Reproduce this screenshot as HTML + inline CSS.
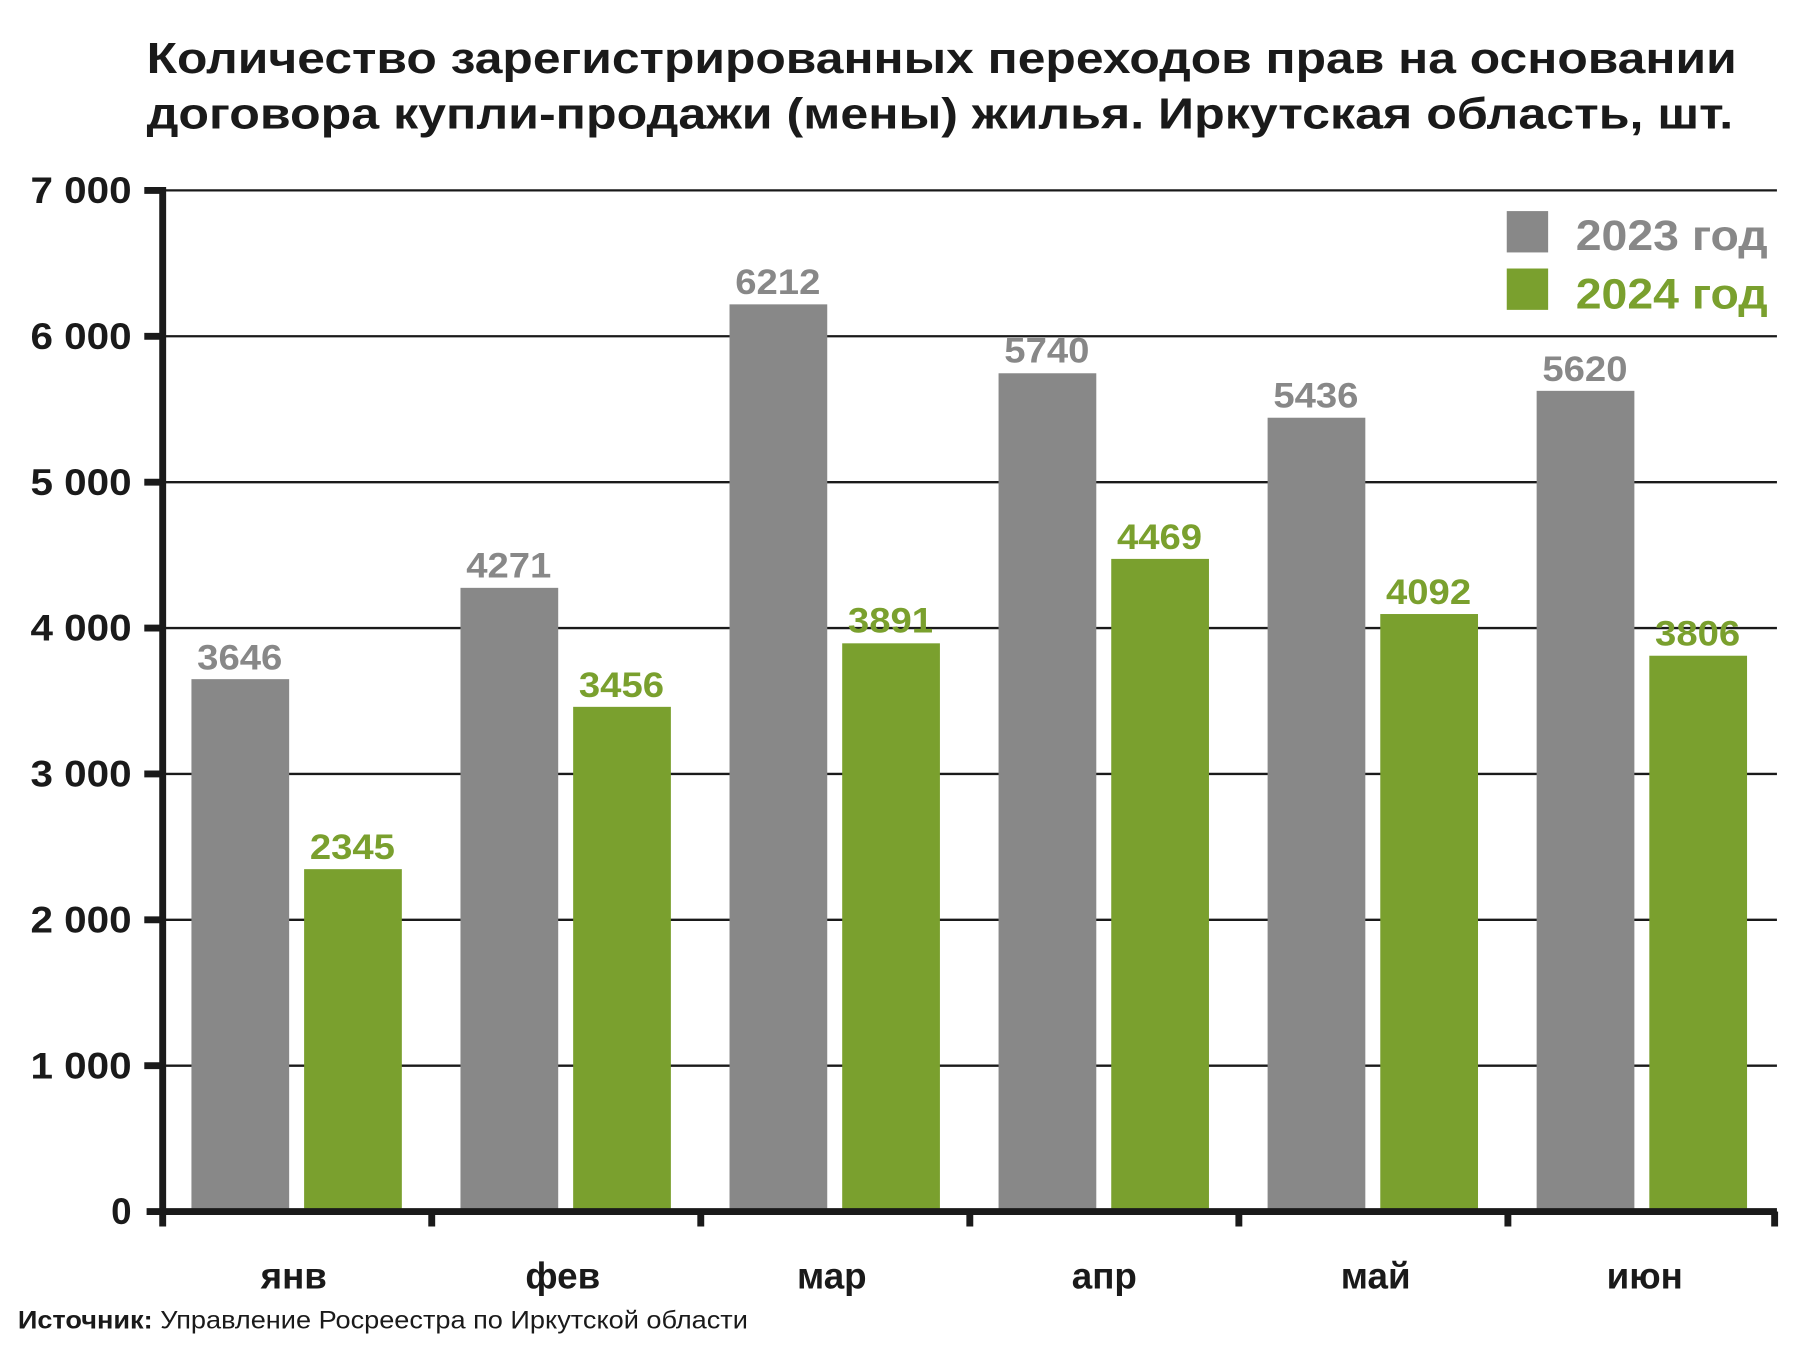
<!DOCTYPE html>
<html><head><meta charset="utf-8"><style>html,body{margin:0;padding:0;background:#fff}svg{display:block}</style></head>
<body>
<svg width="1800" height="1346" viewBox="0 0 1560 1166.5" xmlns="http://www.w3.org/2000/svg" font-family="'Liberation Sans', sans-serif">
<g transform="matrix(0.99645 0 0 0.9955 0.5 -0.25)">
<g font-weight="bold" fill="#1a1a1a" font-size="38">
<text x="127" y="64" textLength="1383" lengthAdjust="spacingAndGlyphs">Количество зарегистрированных переходов прав на основании</text>
<text x="127" y="112" textLength="1380" lengthAdjust="spacingAndGlyphs">договора купли-продажи (мены) жилья. Иркутская область, шт.</text>
</g>
<g stroke="#1a1a1a" stroke-width="2">
<line x1="141" y1="166" x2="1545" y2="166"/>
<line x1="141" y1="293" x2="1545" y2="293"/>
<line x1="141" y1="420" x2="1545" y2="420"/>
<line x1="141" y1="547" x2="1545" y2="547"/>
<line x1="141" y1="674" x2="1545" y2="674"/>
<line x1="141" y1="801" x2="1545" y2="801"/>
<line x1="141" y1="928" x2="1545" y2="928"/>
</g>
<g fill="#888888">
<rect x="166" y="591.5" width="85" height="463.5"/>
<rect x="400" y="512" width="85" height="543"/>
<rect x="634" y="265.2" width="85" height="789.8"/>
<rect x="868" y="325.2" width="85" height="729.8"/>
<rect x="1102" y="363.9" width="85" height="691.1"/>
<rect x="1336" y="340.5" width="85" height="714.5"/>
</g>
<g fill="#7aa02e">
<rect x="264" y="756.9" width="85" height="298.1"/>
<rect x="498" y="615.6" width="85" height="439.4"/>
<rect x="732" y="560.3" width="85" height="494.7"/>
<rect x="966" y="486.8" width="85" height="568.2"/>
<rect x="1200" y="534.8" width="85" height="520.2"/>
<rect x="1434" y="571.1" width="85" height="483.9"/>
</g>
<g font-weight="bold" font-size="31" text-anchor="middle" fill="#888888">
<text x="208" y="583" textLength="74" lengthAdjust="spacingAndGlyphs">3646</text><text x="442" y="503" textLength="74" lengthAdjust="spacingAndGlyphs">4271</text><text x="676" y="256" textLength="74" lengthAdjust="spacingAndGlyphs">6212</text>
<text x="910" y="316" textLength="74" lengthAdjust="spacingAndGlyphs">5740</text><text x="1144" y="355" textLength="74" lengthAdjust="spacingAndGlyphs">5436</text><text x="1378" y="332" textLength="74" lengthAdjust="spacingAndGlyphs">5620</text>
</g>
<g font-weight="bold" font-size="31" text-anchor="middle" fill="#7aa02e">
<text x="306" y="748" textLength="74" lengthAdjust="spacingAndGlyphs">2345</text><text x="540" y="607" textLength="74" lengthAdjust="spacingAndGlyphs">3456</text><text x="774" y="551" textLength="74" lengthAdjust="spacingAndGlyphs">3891</text>
<text x="1008" y="478" textLength="74" lengthAdjust="spacingAndGlyphs">4469</text><text x="1242" y="526" textLength="74" lengthAdjust="spacingAndGlyphs">4092</text><text x="1476" y="562" textLength="74" lengthAdjust="spacingAndGlyphs">3806</text>
</g>
<g stroke="#1a1a1a">
<line x1="141" y1="163" x2="141" y2="1068" stroke-width="6"/>
<line x1="127" y1="1055" x2="1545" y2="1055" stroke-width="6"/>
<g stroke-width="6">
<line x1="125" y1="166" x2="141" y2="166"/><line x1="125" y1="293" x2="141" y2="293"/>
<line x1="125" y1="420" x2="141" y2="420"/><line x1="125" y1="547" x2="141" y2="547"/>
<line x1="125" y1="674" x2="141" y2="674"/><line x1="125" y1="801" x2="141" y2="801"/>
<line x1="125" y1="928" x2="141" y2="928"/>
<line x1="375" y1="1055" x2="375" y2="1068"/><line x1="609" y1="1055" x2="609" y2="1068"/>
<line x1="843" y1="1055" x2="843" y2="1068"/><line x1="1077" y1="1055" x2="1077" y2="1068"/>
<line x1="1311" y1="1055" x2="1311" y2="1068"/><line x1="1543" y1="1055" x2="1543" y2="1068"/>
</g>
</g>
<g font-weight="bold" font-size="32" text-anchor="end" fill="#1a1a1a">
<text x="114" y="177" textLength="88" lengthAdjust="spacingAndGlyphs">7 000</text><text x="114" y="304" textLength="88" lengthAdjust="spacingAndGlyphs">6 000</text><text x="114" y="431" textLength="88" lengthAdjust="spacingAndGlyphs">5 000</text>
<text x="114" y="558" textLength="88" lengthAdjust="spacingAndGlyphs">4 000</text><text x="114" y="685" textLength="88" lengthAdjust="spacingAndGlyphs">3 000</text><text x="114" y="812" textLength="88" lengthAdjust="spacingAndGlyphs">2 000</text>
<text x="114" y="939" textLength="88" lengthAdjust="spacingAndGlyphs">1 000</text><text x="114" y="1066">0</text>
</g>
<g font-weight="bold" font-size="32" text-anchor="middle" fill="#1a1a1a">
<text x="255" y="1122">янв</text><text x="489" y="1122">фев</text><text x="723" y="1122">мар</text>
<text x="960" y="1122">апр</text><text x="1196" y="1122">май</text><text x="1430" y="1122">июн</text>
</g>
<rect x="1310" y="184" width="36" height="36" fill="#888888"/>
<rect x="1310" y="234" width="36" height="36" fill="#7aa02e"/>
<text x="1370" y="218" font-weight="bold" font-size="37" fill="#888888" textLength="167" lengthAdjust="spacingAndGlyphs">2023 год</text>
<text x="1370" y="269" font-weight="bold" font-size="37" fill="#7aa02e" textLength="167" lengthAdjust="spacingAndGlyphs">2024 год</text>
<text x="15" y="1157" font-size="22" fill="#1a1a1a" textLength="635" lengthAdjust="spacingAndGlyphs"><tspan font-weight="bold">Источник:</tspan> Управление Росреестра по Иркутской области</text>
</g>
</svg>
</body></html>
